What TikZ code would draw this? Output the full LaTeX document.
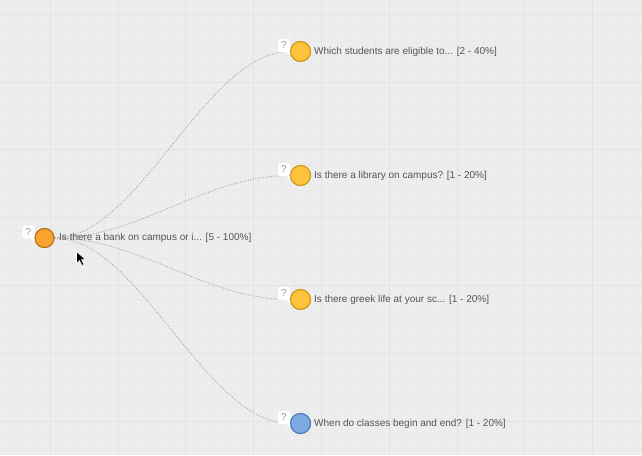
\documentclass[tikz,border=0pt]{standalone}
\usepackage{fontspec}
\setmainfont{Liberation Sans}
\usepackage{tikz}
\usetikzlibrary{positioning,shapes,shadows}
\definecolor{canvas}{HTML}{EDEDED}
\definecolor{gridmin}{HTML}{E9E9E9}
\definecolor{gridmaj}{HTML}{E3E3E3}
\definecolor{linkgray}{HTML}{AAAAAA}
\definecolor{textgray}{HTML}{555555}
\definecolor{rootfill}{HTML}{F8A332}
\definecolor{rootdraw}{HTML}{B86E12}
\definecolor{qfill}{HTML}{FEC33A}
\definecolor{qdraw}{HTML}{CC9618}
\definecolor{bluefill}{HTML}{7DAAE0}
\definecolor{bluedraw}{HTML}{4878BA}
\tikzstyle{qroot} = [circle, minimum size=19pt, inner sep=0pt, draw=rootdraw, line width=1pt, fill=rootfill]
\tikzstyle{qnode} = [circle, minimum size=20pt, inner sep=0pt, draw=qdraw, line width=1pt, fill=qfill]
\tikzstyle{qblue} = [circle, minimum size=20pt, inner sep=0pt, draw=bluedraw, line width=1pt, fill=bluefill]
\tikzstyle{qtext} = [anchor=west, inner sep=0pt, text=textgray, font=\fontsize{10pt}{12pt}\selectfont]
\tikzstyle{badge} = [rectangle, rounded corners=1.5pt, minimum width=12pt, minimum height=13pt, inner sep=0pt, fill=white, text=gray!80, font=\fontsize{10pt}{11pt}\selectfont]
\tikzstyle{link} = [linkgray, line width=1pt, dash pattern=on 1pt off 1.6pt]

\begin{document}
\begin{tikzpicture}[x=1pt, y=-1pt, node distance=124pt, on grid]
\useasboundingbox (0,0) rectangle (642,455);
\fill[canvas] (0,0) rectangle (642,455);
\begin{scope}
\clip (0,0) rectangle (642,455);
\foreach \i in {0,...,48} {
  \draw[gridmin, line width=0.3pt] (-17.8+13.56*\i,0) -- (-17.8+13.56*\i,455);
  \draw[gridmin, line width=0.3pt] (0,14+13.56*\i-67.8) -- (642,14+13.56*\i-67.8);
}
\foreach \i in {0,...,9} {
  \draw[gridmaj, line width=0.5pt] (-17.8+67.8*\i,0) -- (-17.8+67.8*\i,455);
  \draw[gridmaj, line width=0.5pt] (0,14+67.8*\i) -- (642,14+67.8*\i);
}
\end{scope}

\node (root) [qroot] at (44.5,238) {};
\node (q1) [qnode] at (300.5,51.5) {};
\node (q2) [qnode, below=of q1] {};
\node (q3) [qnode, below=of q2] {};
\node (q4) [qblue, below=of q3] {};

% connectors
\foreach \q in {q1,q2,q3,q4}
  \draw [link] (root.east) .. controls +(85,0) and +(-85,0) .. (\q.west);

% redraw circles above the links
\node [qroot] at (root) {};
\node [qnode] at (q1) {};
\node [qnode] at (q2) {};
\node [qnode] at (q3) {};
\node [qblue] at (q4) {};

\node (troot) [qtext, xshift=14.5pt] at (root) {Is there a bank on campus or i... [5 - 100\%]};
\node (t1) [qtext, xshift=13.5pt] at (q1) {Which students are eligible to... [2 - 40\%]};
\node (t2) [qtext, xshift=13.5pt] at (q2) {Is there a library on campus? [1 - 20\%]};
\node (t3) [qtext, xshift=13.5pt] at (q3) {Is there greek life at your sc... [1 - 20\%]};
\node (t4) [qtext, xshift=13.5pt] at (q4) {When do classes begin and end? [1 - 20\%]};

% question badges
\foreach \q/\dx in {root/-16, q1/-16.5, q2/-16.5, q3/-16.5, q4/-16.5} {
  \node (b\q) [badge, xshift=\dx pt, yshift=6pt] at (\q) {?};
  \fill[white] (b\q.south east) ++(-4pt,0) -- ++(4pt,-3pt) -- ++(0,3pt) -- cycle;
}

% mouse pointer
\coordinate (cur) at (76.5,251.5);
\draw[white, fill=black, line width=0.6pt, line join=round] (cur) -- ++(0,12) -- ++(3,-3) -- ++(2.5,5) -- ++(2,-1) -- ++(-2.5,-4.8) -- ++(4.2,0) -- cycle;
\end{tikzpicture}
\end{document}
